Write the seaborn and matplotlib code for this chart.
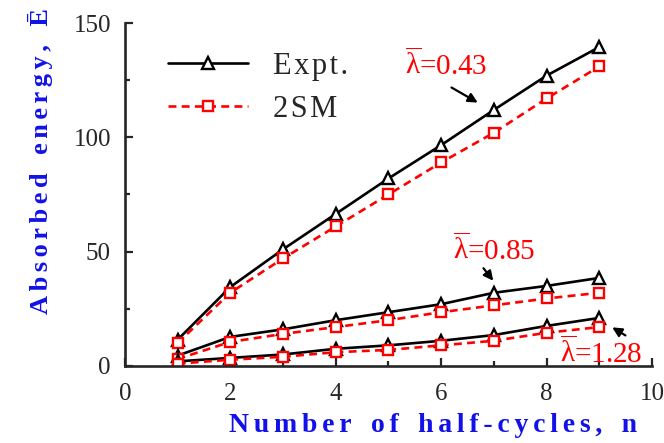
import numpy as np
import pandas as pd
import matplotlib
matplotlib.use('Agg')
import matplotlib.pyplot as plt
import seaborn as sns
from matplotlib.ticker import MultipleLocator

# Data
n = [1, 2, 3, 4, 5, 6, 7, 8, 9]

expt_043 = [11.4, 34.5, 51.0, 66.5, 82.0, 96.6, 112.0, 127.0, 139.5]
sm_043 = [10.0, 32.0, 47.0, 61.0, 75.0, 89.0, 102.0, 117.0, 131.0]

expt_085 = [4.5, 12.7, 16.0, 20.0, 23.5, 27.0, 32.0, 35.0, 38.5]
sm_085 = [3.0, 10.5, 14.0, 17.0, 20.0, 23.5, 26.5, 29.5, 32.0]

expt_128 = [2.0, 3.5, 5.0, 7.5, 9.0, 11.0, 13.5, 17.5, 21.0]
sm_128 = [1.0, 2.7, 4.0, 6.0, 7.0, 9.0, 11.0, 14.5, 17.0]


def spaced(s, sep='\u200a'):
    # letter-spaced text, words set apart by wider gaps
    return '\u2002\u2009'.join(sep.join(w) for w in s.split(' '))


sns.set_style('ticks')
plt.rcParams['font.family'] = ['Liberation Serif', 'DejaVu Serif']
plt.rcParams['mathtext.fontset'] = 'custom'
plt.rcParams['mathtext.rm'] = 'Liberation Serif'
plt.rcParams['mathtext.it'] = 'Liberation Serif'
plt.rcParams['mathtext.bf'] = 'Liberation Serif:bold'

fig = plt.figure(figsize=(6.64, 4.43), dpi=100)
ax = fig.add_axes([0.188, 0.174, 0.794, 0.774])

expt_style = dict(color='black', lw=1.9, marker='^', markersize=9,
                  markerfacecolor='white', markeredgecolor='black', markeredgewidth=1.7)
sm_style = dict(color='#ff0000', lw=1.9, linestyle=(0, (3, 2)), marker='s', markersize=7,
                markerfacecolor='white', markeredgecolor='#ff0000', markeredgewidth=1.7)

for e, s in [(expt_043, sm_043), (expt_085, sm_085), (expt_128, sm_128)]:
    sns.lineplot(x=n, y=e, ax=ax, **expt_style)
    sns.lineplot(x=n, y=s, ax=ax, **sm_style)

ax.set_xlim(0, 10)
ax.set_ylim(0, 150)
ax.xaxis.set_major_locator(MultipleLocator(2))
ax.xaxis.set_minor_locator(MultipleLocator(1))
ax.yaxis.set_major_locator(MultipleLocator(50))
ax.yaxis.set_minor_locator(MultipleLocator(25))
ax.tick_params(which='both', direction='in', width=1.6, labelsize=18)
ax.tick_params(axis='x', pad=12)
ax.tick_params(axis='y', pad=10)
ax.tick_params(which='major', length=6)
ax.tick_params(which='minor', length=3.5)
sns.despine(ax=ax)
for sp in ['left', 'bottom']:
    ax.spines[sp].set_linewidth(1.9)

blue = '#1212e8'
ax.set_xlabel(spaced('Number of half-cycles, n', '\u200a\u200a'), fontsize=20,
              fontweight='bold', color=blue)
ax.set_ylabel(spaced('Absorbed energy, Ē', '\u200a\u200a'), fontsize=19,
              fontweight='bold', color=blue)
ax.xaxis.set_label_coords(0.585, -0.137)
ax.yaxis.set_label_coords(-0.137, 0.598)

leg = ax.legend(handles=[ax.lines[0], ax.lines[1]],
                labels=[spaced('Expt.'), spaced('2SM')],
                loc='upper left', bbox_to_anchor=(0.082, 0.916), frameon=False,
                fontsize=22, handlelength=2.6, handletextpad=0.85, labelspacing=0.45,
                borderpad=0, borderaxespad=0)

red = '#ff0000'
ax.text(6.09, 131.6, r'$\overline{\lambda}$=0.43', color=red, fontsize=21, ha='center', va='center')
ax.annotate('', xy=(6.74, 114.6), xytext=(6.15, 122.4),
            arrowprops=dict(arrowstyle='-|>', color='black', lw=1.6, mutation_scale=14))
ax.text(7.0, 50.7, r'$\overline{\lambda}$=0.85', color=red, fontsize=21, ha='center', va='center')
ax.annotate('', xy=(7.02, 36.3), xytext=(6.77, 43.7),
            arrowprops=dict(arrowstyle='-|>', color='black', lw=1.6, mutation_scale=14))
ax.text(9.03, 5.7, r'$\overline{\lambda}$=1.28', color=red, fontsize=21, ha='center', va='center')
ax.annotate('', xy=(9.2, 17.5), xytext=(9.54, 12.7),
            arrowprops=dict(arrowstyle='-|>', color='black', lw=1.6, mutation_scale=14))

fig.savefig('out.png', dpi=100)
